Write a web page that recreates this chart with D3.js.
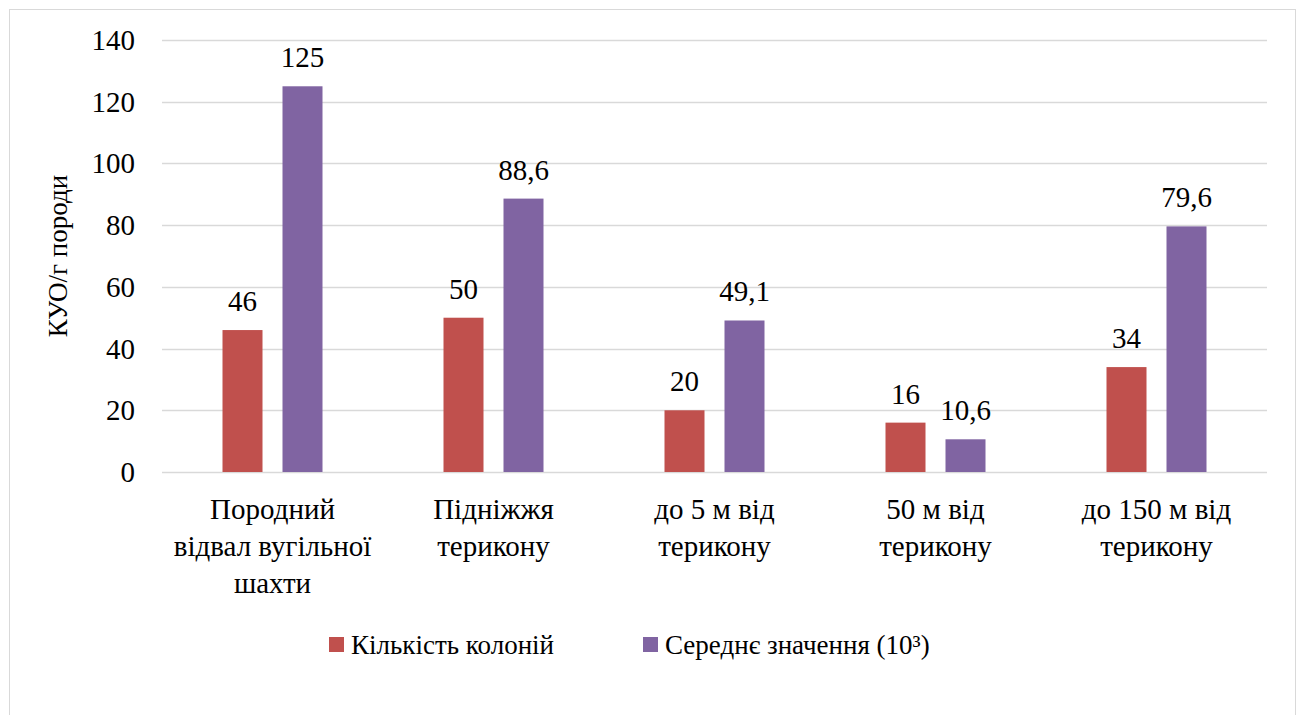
<!DOCTYPE html>
<html>
<head>
<meta charset="utf-8">
<script src="https://cdn.jsdelivr.net/npm/d3@7"></script>
<style>
    body { margin: 0; background: #fff; }
</style>
</head>
<body>
<div id="chart"></div>
<script>
// Chart data
const categories = [
    ['Породний', 'відвал вугільної', 'шахти'],
    ['Підніжжя', 'терикону'],
    ['до 5 м від', 'терикону'],
    ['50 м від', 'терикону'],
    ['до 150 м від', 'терикону']
];
const colonies = [46, 50, 20, 16, 34];
const meanValues = [125, 88.6, 49.1, 10.6, 79.6];
const yTicks = [0, 20, 40, 60, 80, 100, 120, 140];
const seriesNames = ['Кількість колоній', 'Середнє значення (10³)'];

const width = 1300, height = 715;
const margin = { top: 40, right: 33, bottom: 243, left: 162 };
const colors = ['#c0504d', '#8064a2'];
const FONT = '"Liberation Serif", "Times New Roman", "DejaVu Serif", serif';

const svg = d3.select('#chart').append('svg')
    .attr('width', width)
    .attr('height', height)
    .attr('font-family', FONT);

// Outer border
svg.append('rect')
    .attr('x', 9.5).attr('y', 9.5)
    .attr('width', 1286).attr('height', 720)
    .attr('fill', 'none')
    .attr('stroke', '#d9d9d9');

const x = d3.scaleBand()
    .domain(d3.range(categories.length))
    .range([margin.left, width - margin.right]);

const y = d3.scaleLinear()
    .domain([0, 140])
    .range([height - margin.bottom, margin.top]);

// Gridlines
svg.append('g')
    .selectAll('line')
    .data(yTicks)
    .enter().append('line')
    .attr('x1', margin.left)
    .attr('x2', width - margin.right)
    .attr('y1', d => Math.round(y(d)) + 0.5)
    .attr('y2', d => Math.round(y(d)) + 0.5)
    .attr('stroke', '#d9d9d9')
    .attr('stroke-width', 1.5);

// Y tick labels
svg.append('g')
    .selectAll('text')
    .data(yTicks)
    .enter().append('text')
    .attr('x', 135)
    .attr('y', d => y(d) + 10)
    .attr('text-anchor', 'end')
    .attr('font-family', FONT)
    .attr('font-size', 29)
    .text(d => d);

// Axis title
svg.append('text')
    .attr('transform', `translate(67,${(margin.top + height - margin.bottom) / 2}) rotate(-90)`)
    .attr('text-anchor', 'middle')
    .attr('font-family', FONT)
    .attr('font-size', 27)
    .text('КУО/г породи');

// Bars
const barW = 40;
const series = [colonies, meanValues];
const offsets = [-50, 10];

series.forEach((vals, si) => {
    const g = svg.append('g');
    g.selectAll('rect')
        .data(vals)
        .enter().append('rect')
        .attr('x', (d, i) => x(i) + x.bandwidth() / 2 + offsets[si])
        .attr('y', d => y(d))
        .attr('width', barW)
        .attr('height', d => y(0) - y(d))
        .attr('fill', colors[si]);

    g.selectAll('text')
        .data(vals)
        .enter().append('text')
        .attr('x', (d, i) => x(i) + x.bandwidth() / 2 + offsets[si] + barW / 2)
        .attr('y', d => y(d) - 19)
        .attr('text-anchor', 'middle')
        .attr('font-family', FONT)
        .attr('font-size', 29)
        .text(d => String(d).replace('.', ','));
});

// Category labels
const catG = svg.append('g');
categories.forEach((lines, i) => {
    const t = catG.append('text')
        .attr('text-anchor', 'middle')
        .attr('font-family', FONT)
        .attr('font-size', 29);
    lines.forEach((line, li) => {
        t.append('tspan')
            .attr('x', x(i) + x.bandwidth() / 2)
            .attr('y', 519 + li * 37)
            .text(line);
    });
});

// Legend
const legendItems = [
    { name: seriesNames[0], color: colors[0], x: 329 },
    { name: seriesNames[1], color: colors[1], x: 643 }
];
const legend = svg.append('g');
legendItems.forEach(item => {
    legend.append('rect')
        .attr('x', item.x)
        .attr('y', 637)
        .attr('width', 15)
        .attr('height', 15)
        .attr('fill', item.color);
    legend.append('text')
        .attr('x', item.x + 22)
        .attr('y', 654)
        .attr('font-family', FONT)
        .attr('font-size', 27)
        .text(item.name);
});
</script>
</body>
</html>
